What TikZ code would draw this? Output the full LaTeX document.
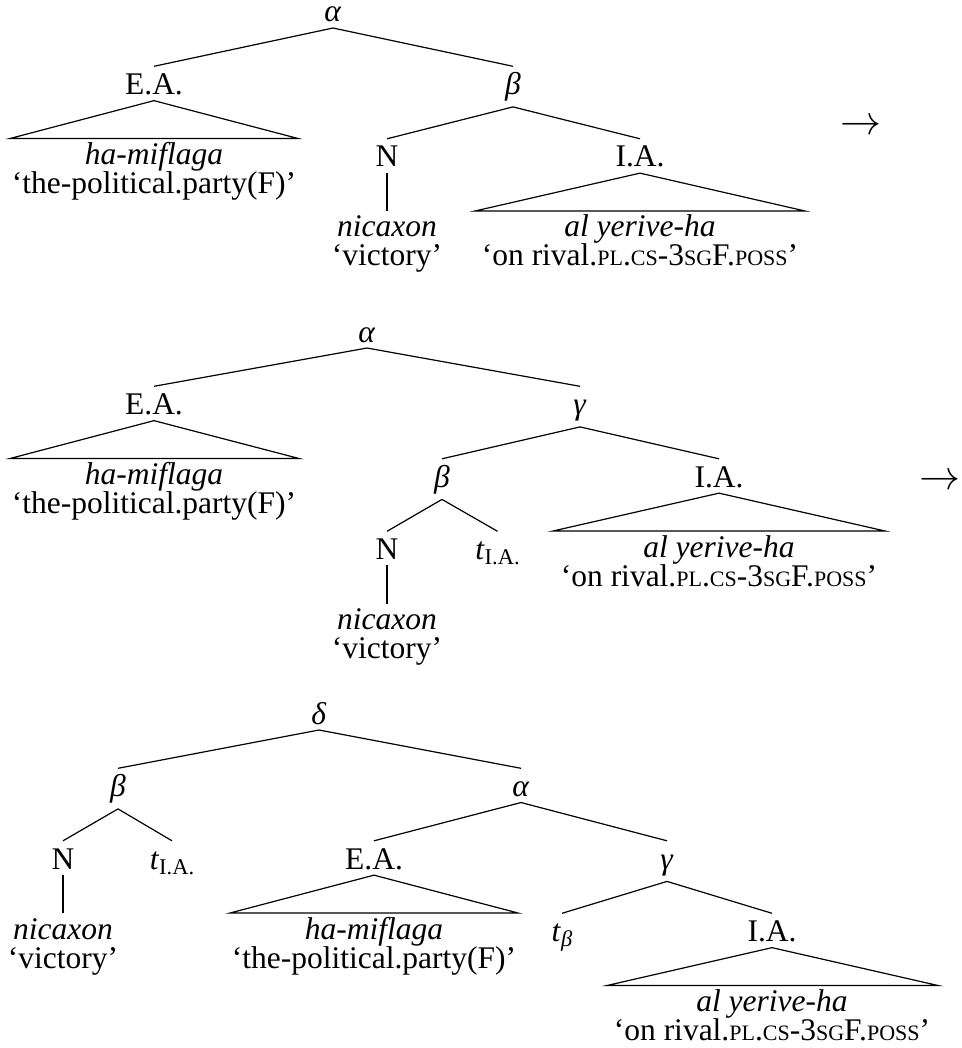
\documentclass[tikz,border=0pt]{standalone}
\usepackage{graphicx}
\usepackage{fontspec}
\setmainfont{Liberation Serif}
\newcommand\trfont{\fontsize{31.5}{30}\selectfont}
\newcommand\smc[1]{{\fontsize{22}{22}\selectfont #1}}
\newcommand\lowsub[1]{\raisebox{-5pt}{\fontsize{22.5}{22.5}\selectfont #1}}
\newcommand\gl{‘on rival.\smc{PL}.\smc{CS}-3\smc{SG}F.\smc{POSS}’}
\newcommand\glb{‘the-political.party(F)’}
\tikzset{
  lab/.style={font=\trfont, text height=22.5pt, inner xsep=0pt, inner ysep=5.5pt, anchor=base},
  rootlab/.style={lab, text height=16pt},
  txt/.style={font=\trfont, inner sep=0pt, anchor=base},
  edge/.style={line width=1.2pt, line join=miter},
  arr/.style={inner sep=0pt}
}
\begin{document}
\begin{tikzpicture}[x=1pt,y=-1pt]
\useasboundingbox (0,0) rectangle (961,1048);
% ---------- tree 1 ----------
\node[rootlab] (a1) at (333,22) {\textit{α}};
\node[lab] (ea1) at (154,94.5) {E.A.};
\node[lab] (b1) at (513,94.5) {\textit{β}};
\node[lab] (n1) at (387,167) {N};
\node[lab] (ia1) at (640,167) {I.A.};
\coordinate (ea1l) at (10,138.5);
\coordinate (ea1r) at (298,138.5);
\coordinate (n1e) at (387,211);
\coordinate (ia1l) at (475,211);
\coordinate (ia1r) at (805,211);
\node[txt] (ea1w) at (154,164.5) {\textit{ha-miflaga}};
\node[txt] (ea1g) at (154,193.5) {\glb};
\node[txt] (n1w) at (387,237) {\textit{nicaxon}};
\node[txt] (n1g) at (387,266) {‘victory’};
\node[txt] (ia1w) at (640,237) {\textit{al yerive-ha}};
\node[txt] (ia1g) at (640,266) {\gl};
\node[arr] (ar1) at (860.5,127) {\scalebox{4.1}{$\rightarrow$}};
\draw[edge] (a1.south) -- (ea1.north);
\draw[edge] (a1.south) -- (b1.north);
\draw[edge] (ea1.south) -- (ea1l) -- (ea1r) -- cycle;
\draw[edge] (b1.south) -- (n1.north);
\draw[edge] (b1.south) -- (ia1.north);
\draw[edge] (n1.south) -- (n1e);
\draw[edge] (ia1.south) -- (ia1l) -- (ia1r) -- cycle;
% ---------- tree 2 ----------
\node[rootlab] (a2) at (367,342) {\textit{α}};
\node[lab] (ea2) at (154,414.5) {E.A.};
\node[lab] (g2) at (580,414.5) {\textit{γ}};
\node[lab] (b2) at (442,487) {\textit{β}};
\node[lab] (ia2) at (719,487) {I.A.};
\node[lab] (n2) at (387,559.5) {N};
\node[lab] (t2) at (497.5,559.5) {\textit{t}\lowsub{I.A.}};
\coordinate (ea2l) at (10,458.5);
\coordinate (ea2r) at (299,458.5);
\coordinate (ia2l) at (553,531);
\coordinate (ia2r) at (885,531);
\coordinate (n2e) at (387,603.5);
\node[txt] (ea2w) at (154,484.5) {\textit{ha-miflaga}};
\node[txt] (ea2g) at (154,513.5) {\glb};
\node[txt] (ia2w) at (719,557) {\textit{al yerive-ha}};
\node[txt] (ia2g) at (719,586) {\gl};
\node[txt] (n2w) at (387,629.5) {\textit{nicaxon}};
\node[txt] (n2g) at (387,658.5) {‘victory’};
\node[arr] (ar2) at (939.5,482) {\scalebox{4.1}{$\rightarrow$}};
\draw[edge] (a2.south) -- (ea2.north);
\draw[edge] (a2.south) -- (g2.north);
\draw[edge] (ea2.south) -- (ea2l) -- (ea2r) -- cycle;
\draw[edge] (g2.south) -- (b2.north);
\draw[edge] (g2.south) -- (ia2.north);
\draw[edge] (ia2.south) -- (ia2l) -- (ia2r) -- cycle;
\draw[edge] (b2.south) -- (n2.north);
\draw[edge] (b2.south) -- (t2.north);
\draw[edge] (n2.south) -- (n2e);
% ---------- tree 3 ----------
\node[rootlab] (d3) at (319,724) {\textit{δ}};
\node[lab] (b3) at (118,796.5) {\textit{β}};
\node[lab] (a3) at (521,796.5) {\textit{α}};
\node[lab] (n3) at (63,869) {N};
\node[lab] (t3) at (172,869) {\textit{t}\lowsub{I.A.}};
\node[lab] (ea3) at (374,869) {E.A.};
\node[lab] (g3) at (667,869) {\textit{γ}};
\node[lab] (tb3) at (562,941.5) {\textit{t}\lowsub{\textit{β}}};
\node[lab] (ia3) at (772,941.5) {I.A.};
\coordinate (n3e) at (63,913);
\coordinate (ea3l) at (230,913);
\coordinate (ea3r) at (518,913);
\coordinate (ia3l) at (607,985.5);
\coordinate (ia3r) at (938,985.5);
\node[txt] (n3w) at (63,939) {\textit{nicaxon}};
\node[txt] (n3g) at (63,968) {‘victory’};
\node[txt] (ea3w) at (374,939) {\textit{ha-miflaga}};
\node[txt] (ea3g) at (374,968) {\glb};
\node[txt] (ia3w) at (772,1011.5) {\textit{al yerive-ha}};
\node[txt] (ia3g) at (772,1040.5) {\gl};
\draw[edge] (d3.south) -- (b3.north);
\draw[edge] (d3.south) -- (a3.north);
\draw[edge] (b3.south) -- (n3.north);
\draw[edge] (b3.south) -- (t3.north);
\draw[edge] (n3.south) -- (n3e);
\draw[edge] (a3.south) -- (ea3.north);
\draw[edge] (a3.south) -- (g3.north);
\draw[edge] (ea3.south) -- (ea3l) -- (ea3r) -- cycle;
\draw[edge] (g3.south) -- (tb3.north);
\draw[edge] (g3.south) -- (ia3.north);
\draw[edge] (ia3.south) -- (ia3l) -- (ia3r) -- cycle;
\end{tikzpicture}
\end{document}
